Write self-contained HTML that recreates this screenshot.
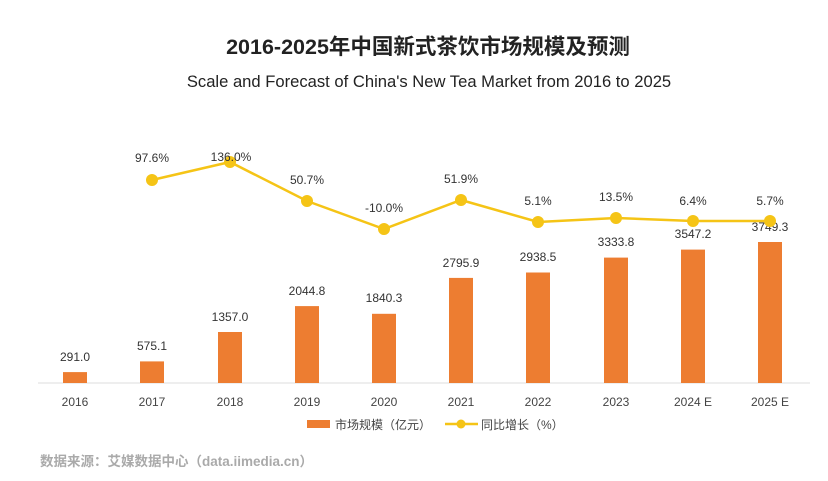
<!DOCTYPE html>
<html><head><meta charset="utf-8"><style>
body{margin:0;background:#fff;}
svg{display:block;font-family:"Liberation Sans","Noto Sans CJK SC",sans-serif;}
</style></head><body>
<svg width="828" height="481" viewBox="0 0 828 481">
<text x="428" y="54" text-anchor="middle" font-size="21.5" font-weight="bold" fill="#222">2016-2025年中国新式茶饮市场规模及预测</text>
<text x="429" y="87" text-anchor="middle" font-size="16.6" fill="#222">Scale and Forecast of China's New Tea Market from 2016 to 2025</text>
<line x1="38" y1="383" x2="810" y2="383" stroke="#ddd" stroke-width="1"/>
<g fill="#ED7D31">
<rect x="63" y="372.1" width="24" height="10.9"/>
<rect x="140" y="361.4" width="24" height="21.6"/>
<rect x="218" y="332" width="24" height="51"/>
<rect x="295" y="306.1" width="24" height="76.9"/>
<rect x="372" y="313.8" width="24" height="69.2"/>
<rect x="449" y="277.9" width="24" height="105.1"/>
<rect x="526" y="272.5" width="24" height="110.5"/>
<rect x="604" y="257.6" width="24" height="125.4"/>
<rect x="681" y="249.6" width="24" height="133.4"/>
<rect x="758" y="242" width="24" height="141"/>
</g>
<g font-size="12" fill="#333" text-anchor="middle">
<text x="75" y="361">291.0</text>
<text x="152" y="350">575.1</text>
<text x="230" y="321">1357.0</text>
<text x="307" y="295">2044.8</text>
<text x="384" y="302">1840.3</text>
<text x="461" y="267">2795.9</text>
<text x="538" y="261">2938.5</text>
<text x="616" y="246">3333.8</text>
<text x="693" y="238">3547.2</text>
<text x="770" y="231">3749.3</text>
</g>
<polyline points="152,180 230,162 307,201 384,229 461,200 538,222 616,218 693,221 770,221" fill="none" stroke="#F5C416" stroke-width="2.5"/>
<g fill="#F5C416">
<circle cx="152" cy="180" r="6"/><circle cx="230" cy="162" r="6"/><circle cx="307" cy="201" r="6"/><circle cx="384" cy="229" r="6"/><circle cx="461" cy="200" r="6"/><circle cx="538" cy="222" r="6"/><circle cx="616" cy="218" r="6"/><circle cx="693" cy="221" r="6"/><circle cx="770" cy="221" r="6"/>
</g>
<g font-size="12" fill="#333" text-anchor="middle">
<text x="152" y="162">97.6%</text>
<text x="231" y="161">136.0%</text>
<text x="307" y="184">50.7%</text>
<text x="384" y="212">-10.0%</text>
<text x="461" y="183">51.9%</text>
<text x="538" y="205">5.1%</text>
<text x="616" y="201">13.5%</text>
<text x="693" y="205">6.4%</text>
<text x="770" y="205">5.7%</text>
</g>
<g font-size="12" fill="#444" text-anchor="middle">
<text x="75" y="406">2016</text><text x="152" y="406">2017</text><text x="230" y="406">2018</text><text x="307" y="406">2019</text><text x="384" y="406">2020</text><text x="461" y="406">2021</text><text x="538" y="406">2022</text><text x="616" y="406">2023</text><text x="693" y="406">2024 E</text><text x="770" y="406">2025 E</text>
</g>
<rect x="307" y="420" width="23" height="8" fill="#ED7D31"/>
<text x="335" y="429" font-size="12" fill="#444">市场规模（亿元）</text>
<line x1="445" y1="424" x2="478" y2="424" stroke="#F5C416" stroke-width="2.5"/>
<circle cx="461" cy="424" r="4.5" fill="#F5C416"/>
<text x="473" y="429" font-size="12" fill="#444" dx="8">同比增长（%）</text>
<text x="40" y="466" font-size="13.5" font-weight="bold" fill="#aaa">数据来源：艾媒数据中心（data.iimedia.cn）</text>
</svg>
</body></html>
